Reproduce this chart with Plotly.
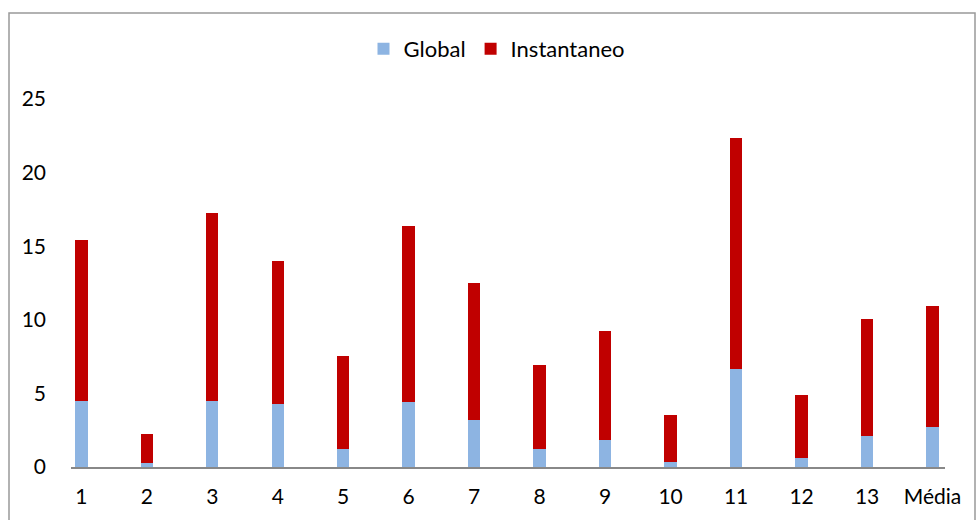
import plotly.graph_objects as go

# Categories and stacked series values
categories = ["1", "2", "3", "4", "5", "6", "7", "8", "9", "10", "11", "12", "13", "Média"]
global_vals = [4.5, 0.25, 4.48, 4.28, 1.22, 4.4, 3.19, 1.22, 1.83, 0.36, 6.64, 0.61, 2.13, 2.70]
totals = [15.4, 2.24, 17.25, 14.0, 7.54, 16.4, 12.5, 6.93, 9.24, 3.53, 22.35, 4.89, 10.05, 10.94]
instant_vals = [round(t - g, 2) for t, g in zip(totals, global_vals)]
y_ticks = [0, 5, 10, 15, 20, 25]

W, H = 976, 520
L, R, T, B = 71, 31, 99, 53

font_family = "Lato, 'Open Sans', sans-serif"

fig = go.Figure()
fig.add_trace(go.Bar(
    x=categories, y=global_vals, name="Global",
    marker=dict(color="#8DB4E2", line=dict(width=0)), width=0.19,
))
fig.add_trace(go.Bar(
    x=categories, y=instant_vals, name="Instantaneo",
    marker=dict(color="#C00000", line=dict(width=0)), width=0.19,
))

pw = W - L - R
ph = H - T - B

fig.update_layout(
    width=W, height=H,
    margin=dict(l=L, r=R, t=T, b=B, pad=0),
    barmode="stack",
    plot_bgcolor="white", paper_bgcolor="white",
    font=dict(family=font_family, size=20, color="#000000"),
    showlegend=True,
    legend=dict(
        orientation="h", x=(497 - L) / pw, xanchor="center",
        y=(H - B - 49) / ph, yanchor="middle",
        font=dict(size=22), traceorder="normal",
        itemwidth=30, bgcolor="rgba(0,0,0,0)",
    ),
    xaxis=dict(
        type="category", range=[-0.157, 13.19],
        showline=True, linecolor="#888888", linewidth=1.5,
        showgrid=False, ticks="", zeroline=False,
        ticklabelstandoff=10, tickfont=dict(size=21),
    ),
    yaxis=dict(
        range=[0, 25], tickvals=y_ticks, ticktext=[str(v) for v in y_ticks],
        showgrid=False, showline=False, zeroline=False, ticks="",
        ticklabelstandoff=24, tickfont=dict(size=21),
    ),
    shapes=[dict(
        type="rect", xref="paper", yref="paper",
        x0=(9 - L) / pw, x1=(975 - L) / pw,
        y0=(H - B - 530) / ph, y1=(H - B - 13) / ph,
        line=dict(color="#999999", width=1.5), fillcolor="rgba(0,0,0,0)",
        layer="below",
    )],
)

fig.write_html("out.html")
